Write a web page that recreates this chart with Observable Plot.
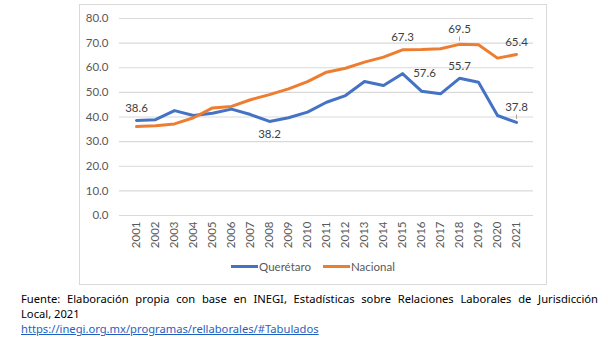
<!DOCTYPE html>
<html><head><meta charset="utf-8">
<script src="https://cdn.jsdelivr.net/npm/d3@7"></script>
<script src="https://cdn.jsdelivr.net/npm/@observablehq/plot@0.6"></script>
<style>
html,body{margin:0;padding:0;background:#fff}
body{width:608px;height:337px;overflow:hidden;position:relative;font-family:Lato,sans-serif}
#box{position:absolute;left:79px;top:4px;width:468px;height:281px;border:1px solid #d9d9d9;box-sizing:border-box;background:#fff}
#chart{position:absolute;left:0;top:0}
#legend{position:absolute;left:0;width:466px;top:253px;height:16px;display:flex;justify-content:center;align-items:center;font-size:11.5px;color:#595959;white-space:nowrap}
.sw{display:inline-block;width:27px;height:3px;margin-right:1px}
.item{display:flex;align-items:center;margin:0 6px}
#caption{position:absolute;left:21px;top:291px;width:577px;font-family:"Noto Sans",sans-serif;font-size:11.2px;line-height:15px;color:#000}
#caption .j{text-align:justify;text-align-last:justify;display:block}
#caption a{color:#1f5fbf;text-decoration:underline}
</style>
</head><body>
<div id="box"><div id="chart"></div><div id="legend"></div></div>
<div id="caption"><span class="j">Fuente: Elaboración propia con base en INEGI, Estadísticas sobre Relaciones Laborales de Jurisdicción</span>Local, 2021<br><a href="#">https://inegi.org.mx/programas/rellaborales/#Tabulados</a></div>
<script>
const years = ["2001","2002","2003","2004","2005","2006","2007","2008","2009","2010","2011","2012","2013","2014","2015","2016","2017","2018","2019","2020","2021"];
const seriesNames = ["Querétaro","Nacional"];
const seriesColors = ["#4472C4","#ED7D31"];
const queretaro = [38.6,38.9,42.6,40.6,41.5,43.2,41.0,38.2,39.7,42.0,46.0,48.7,54.4,52.8,57.6,50.5,49.4,55.7,54.1,40.6,37.8];
const nacional  = [36.1,36.4,37.2,39.7,43.7,44.3,47.0,49.1,51.4,54.4,58.2,59.8,62.3,64.3,67.3,67.4,67.7,69.5,69.3,63.9,65.4];
const yTicks = [0,10,20,30,40,50,60,70,80];
// labelled points: [series, year]
const labelsAbove = [["Querétaro","2001"],["Nacional","2015"],["Querétaro","2018"],["Nacional","2021"]];
const labelsBelow = [["Querétaro","2008"]];
const labelsRight = [["Querétaro","2015"]];
const labelsHigh  = [["Nacional","2018"],["Querétaro","2021"]];

const rows = [];
years.forEach((y,i)=>{rows.push({year:y,series:"Querétaro",value:queretaro[i]});rows.push({year:y,series:"Nacional",value:nacional[i]});});
const pick = list => list.map(([s,y]) => rows.find(r=>r.series===s && r.year===y));
const txt = {x:"year", y:"value", text:d=>d.value.toFixed(1), fill:"#404040", fontSize:11.5, fontFamily:"Lato"};

const plot = Plot.plot({
  width:466, height:250,
  marginLeft:39, marginRight:13, marginTop:13, marginBottom:40,
  style:{fontFamily:"Lato", fontSize:"11px", color:"#595959", background:"transparent"},
  x:{type:"point", domain:years, padding:0.5, label:null, tickRotate:-90, tickSize:0, tickPadding:6},
  y:{domain:[0,80], ticks:yTicks, tickFormat:d=>d.toFixed(1), label:null, tickSize:0, tickPadding:11},
  color:{domain:seriesNames, range:seriesColors},
  marks:[
    Plot.gridY(yTicks,{stroke:"#d9d9d9", strokeOpacity:1, strokeWidth:1.2}),
    Plot.axisY({ticks:yTicks, tickFormat:d=>d.toFixed(1), tickSize:0, tickPadding:11, label:null, fontSize:11.5}),
    Plot.axisX({tickRotate:-90, tickSize:0, tickPadding:6, label:null, fontSize:11.5}),
    Plot.line(rows,{x:"year", y:"value", z:"series", stroke:"series", strokeWidth:3, strokeLinejoin:"round", strokeLinecap:"round"}),
    Plot.text(pick(labelsAbove),{...txt, dy:-12}),
    Plot.text(pick(labelsBelow),{...txt, dy:13}),
    Plot.text(pick(labelsRight),{...txt, dx:22}),
    Plot.text(pick(labelsHigh),{...txt, dy:-15}),
    Plot.ruleX(pick(labelsHigh),{x:"year", stroke:"#a6a6a6", strokeWidth:1, y1:d=>d.value+1.2, y2:d=>d.value+3})
  ]
});
document.getElementById("chart").appendChild(plot);
const leg = document.getElementById("legend");
seriesNames.forEach((s,i)=>{
  const it=document.createElement("span");it.className="item";
  const sw=document.createElement("span");sw.className="sw";sw.style.background=seriesColors[i];
  it.appendChild(sw);it.appendChild(document.createTextNode(s));leg.appendChild(it);
});
</script>
</body></html>
